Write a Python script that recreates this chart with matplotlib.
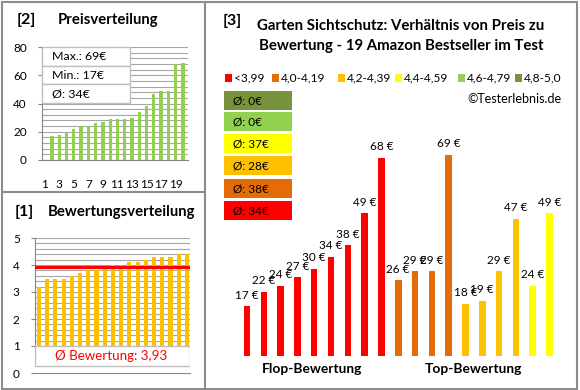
import matplotlib
matplotlib.use("Agg")
import matplotlib.pyplot as plt
import numpy as np
from matplotlib.patches import Rectangle
from matplotlib.lines import Line2D

plt.rcParams['font.family'] = ['Lato', 'DejaVu Sans']

# Preisverteilung (sortiert)
prices = [17, 18, 19, 22, 24, 24, 26, 27, 29, 29, 29, 30, 34, 38, 47, 49, 49, 68, 69]
# Bewertungsverteilung (sortiert)
ratings = [3.2, 3.5, 3.5, 3.5, 3.6, 3.7, 3.8, 3.8, 3.9, 4.0, 4.0, 4.1, 4.1,
           4.2, 4.3, 4.3, 4.3, 4.4, 4.4]

# Preis nach Bewertungsklasse
group_labels = ['<3,99', '4,0-4,19', '4,2-4,39', '4,4-4,59', '4,6-4,79', '4,8-5,0']
group_colors = ['#FF0000', '#E36C09', '#FFC000', '#FFFF00', '#92D050', '#77933C']
group_prices = [
    [17, 22, 24, 27, 30, 34, 38, 49, 68],
    [26, 29, 29, 69],
    [18, 19, 29, 47],
    [24, 49],
    [],
    [],
]

W, H = 580, 390
fig = plt.figure(figsize=(5.8, 3.9), dpi=100)
fig.patch.set_facecolor('white')


def px(x0, y0, x1, y1):
    return [x0 / W, 1 - y1 / H, (x1 - x0) / W, (y1 - y0) / H]


def fx(x):
    return x / W


def fy(y):
    return 1 - y / H


grid_col = '#A6A6A6'
axis_col = '#868686'

# Rahmen
frame = '#8C8C8C'
fig.add_artist(Rectangle((fx(1.5), fy(388.5)), fx(577) - fx(1.5), fy(1.5) - fy(388.5),
                         transform=fig.transFigure, fill=False, ec=frame, lw=1.5))
fig.add_artist(Line2D([fx(205), fx(205)], [fy(1.5), fy(388.5)], transform=fig.transFigure,
                      color=frame, lw=1.5))
fig.add_artist(Line2D([fx(1.5), fx(205)], [fy(192), fy(192)], transform=fig.transFigure,
                      color=frame, lw=1.5))

# ---- [2] Preisverteilung ----
ax1 = fig.add_axes(px(42, 47, 188, 160))
x1 = np.arange(1, len(prices) + 1)
ax1.bar(x1, prices, width=0.45, color='#92D050', zorder=3)
ax1.set_ylim(0, 80)
ax1.set_xlim(-0.37, 19.7)
ax1.set_yticks(range(0, 81, 20))
ax1.set_yticks(range(0, 81, 4), minor=True)
# Beschriftung im Original um eine Kategorie nach links versetzt
ax1.set_xticks(x1[::2] - 1)
ax1.set_xticklabels([str(i) for i in x1[::2]])
ax1.grid(axis='y', which='both', color=grid_col, lw=0.8, zorder=0)
for s in ['top', 'right']:
    ax1.spines[s].set_visible(False)
for s in ['left', 'bottom']:
    ax1.spines[s].set_color(axis_col)
ax1.tick_params(axis='y', which='major', length=3, color=axis_col, labelsize=8.5, pad=8)
ax1.tick_params(axis='y', which='minor', length=0)
ax1.tick_params(axis='x', length=0, labelsize=8.5, pad=14)
fig.text(fx(17), fy(20), '[2]', fontsize=11.5, fontweight='bold', va='center')
fig.text(fx(58), fy(20), 'Preisverteilung', fontsize=10.7, fontweight='bold', va='center')

stats = ['Max.: %d€' % max(prices), 'Min.: %d€' % min(prices),
         'Ø: %d€' % int(np.mean(prices) + 0.5)]
for i, t in enumerate(stats):
    y0 = 47 + i * 18.7
    fig.add_artist(Rectangle((fx(42), fy(y0 + 18.7)), fx(130) - fx(42), fy(y0) - fy(y0 + 18.7),
                             transform=fig.transFigure, fc='white', ec='#BFBFBF', lw=1, zorder=5))
    fig.text(fx(52), fy(y0 + 9.5), t, fontsize=8.9, va='center', zorder=6)

# ---- [1] Bewertungsverteilung ----
ax2 = fig.add_axes(px(35, 238, 190, 373))
x2 = np.arange(1, len(ratings) + 1)
ax2.bar(x2, ratings, width=0.5, color='#FFC000', zorder=3)
ax2.set_ylim(0, 5)
ax2.set_xlim(0.52, 19.37)
ax2.set_yticks(range(0, 6))
ax2.set_yticks(np.arange(0, 5.01, 0.2), minor=True)
ax2.set_xticks([])
ax2.grid(axis='y', which='both', color=grid_col, lw=0.8, zorder=0)
for s in ['top', 'right']:
    ax2.spines[s].set_visible(False)
for s in ['left', 'bottom']:
    ax2.spines[s].set_color(axis_col)
ax2.tick_params(axis='y', which='major', length=3, color=axis_col, labelsize=8.5, pad=8)
ax2.tick_params(axis='y', which='minor', length=0)
avg_rating = np.mean(ratings)
ax2.plot([0.7, 19.2], [avg_rating, avg_rating], color='#FF0000', lw=2.3, zorder=4)
ax2.set_xlim(0.52, 19.37)
ax2.add_patch(Rectangle((0.52, 0.0), 18.85, 1.0, fc='white', ec='none', zorder=5))
ax2.add_patch(Rectangle((0.52, 0.25), 18.85, 0.75, fc='white', ec='#BFBFBF', lw=1, zorder=6))
fig.text(fx(111), fy(356), 'Ø Bewertung: %s' % ('%.2f' % avg_rating).replace('.', ','),
         color='#FF0000', fontsize=9.6, ha='center', va='center', zorder=7)
fig.text(fx(15), fy(212), '[1]', fontsize=11.5, fontweight='bold', va='center')
fig.text(fx(48), fy(212), 'Bewertungsverteilung', fontsize=10.7, fontweight='bold', va='center')

# ---- [3] Preis zu Bewertung ----
ax3 = fig.add_axes(px(230, 122.7, 570, 356))
vals, cols = [], []
for p, c in zip(group_prices, group_colors):
    vals += p
    cols += [c] * len(p)
x3 = np.arange(len(vals))
bars = ax3.bar(x3, vals, width=0.39, color=cols, zorder=3)
for b, v in zip(bars, vals):
    ax3.annotate('%d €' % v, (b.get_x() + b.get_width() / 2, v), xytext=(0, 4),
                 textcoords='offset points', ha='center', va='bottom', fontsize=8.5)
ax3.set_ylim(0, 80)
ax3.set_xlim(-1.01, 19.22)
ax3.axis('off')

fig.text(fx(223), fy(21), '[3]', fontsize=11.5, fontweight='bold', va='center')
fig.text(fx(401), fy(26), 'Garten Sichtschutz: Verhältnis von Preis zu', fontsize=10.8,
         fontweight='bold', ha='center', va='center')
fig.text(fx(401), fy(46), 'Bewertung - 19 Amazon Bestseller im Test', fontsize=10.8,
         fontweight='bold', ha='center', va='center')

leg_x = [225, 272, 338, 395, 458, 515]
for lx, lab, c in zip(leg_x, group_labels, group_colors):
    fig.add_artist(Rectangle((fx(lx), fy(81.5)), fx(7) - fx(0), fy(74.5) - fy(81.5),
                             transform=fig.transFigure, fc=c, ec='none'))
    fig.text(fx(lx + 9), fy(78), lab, fontsize=8.6, va='center')
fig.text(fx(562), fy(99), '©Testerlebnis.de', fontsize=9, ha='right', va='center')

box_top = [91, 112, 134, 156, 179, 201]
for top, p, c in zip(box_top, group_prices[::-1], group_colors[::-1]):
    avg = int(np.mean(p) + 0.5) if p else 0
    fig.add_artist(Rectangle((fx(224), fy(top + 19)), fx(292) - fx(224), fy(top) - fy(top + 19),
                             transform=fig.transFigure, fc=c, ec='none'))
    fig.text(fx(233), fy(top + 10), 'Ø: %d€' % avg, fontsize=8.5, va='center')

fig.text(fx(312), fy(369), 'Flop-Bewertung', fontsize=9.9, fontweight='bold', ha='center', va='center')
fig.text(fx(473), fy(369), 'Top-Bewertung', fontsize=9.9, fontweight='bold', ha='center', va='center')

fig.savefig('out.png', dpi=100)
